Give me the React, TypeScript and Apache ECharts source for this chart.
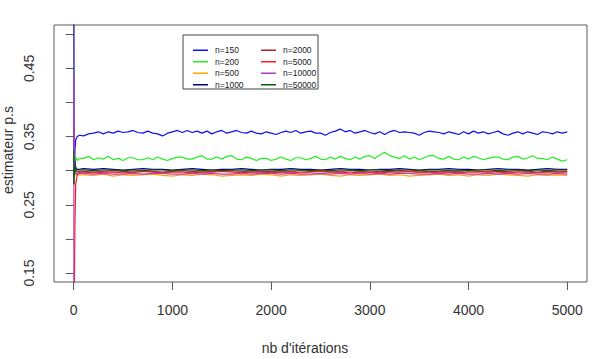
import React, { useEffect, useRef } from "react";
import * as echarts from "echarts";

// Sample positions (iterations) at which each running estimate is recorded
const EARLY_ITERS = [1, 2, 3, 5, 8, 12, 20, 35, 60];
const FINE_ITERS: number[] = [];
for (let it = 100; it <= 5000; it += 50) FINE_ITERS.push(it);
const COARSE_ITERS: number[] = [];
for (let it = 100; it <= 5000; it += 100) COARSE_ITERS.push(it);

const X_TICKS = [0, 1000, 2000, 3000, 4000, 5000];
const Y_TICKS = [0.15, 0.2, 0.25, 0.3, 0.35, 0.4, 0.45, 0.5];
const Y_LABELS = [0.15, 0.25, 0.35, 0.45];

const NAMES = ["n=150", "n=200", "n=500", "n=1000", "n=2000", "n=5000", "n=10000", "n=50000"];
const COLORS = ["#1010f0", "#22ee22", "#ffa500", "#00008b", "#a52a2a", "#ff1a1a", "#b03cc8", "#006400"];

// Start of each run (EARLY_ITERS)
const EARLY_150 = [0.33, 0.3, 0.34, 0.33, 0.31, 0.33, 0.345, 0.35, 0.352];
const EARLY_200 = [0.3, 0.28, 0.31, 0.33, 0.32, 0.31, 0.32, 0.315, 0.318];
const EARLY_500 = [0.365, 0.35, 0.34, 0.325, 0.31, 0.3, 0.295, 0.293, 0.294];
const EARLY_1000 = [1.0, 0.5, 0.333, 0.3, 0.31, 0.315, 0.305, 0.302, 0.302];
const EARLY_2000 = [0.28, 0.3, 0.31, 0.3, 0.295, 0.298, 0.299, 0.298, 0.299];
const EARLY_5000 = [0.0, 0.02, 0.05, 0.1, 0.15, 0.22, 0.28, 0.295, 0.298];
const EARLY_10000 = [0.0, 0.44, 0.4, 0.36, 0.32, 0.3, 0.296, 0.295, 0.296];
const EARLY_50000 = [0.33, 0.28, 0.31, 0.29, 0.3, 0.305, 0.3, 0.301, 0.301];

// Steady part, every 50 iterations (FINE_ITERS)
const FINE_150 = [
  0.351, 0.354, 0.355, 0.357, 0.354, 0.357, 0.355, 0.358, 0.356, 0.357,
  0.359, 0.356, 0.355, 0.358, 0.355, 0.354, 0.351, 0.355, 0.357, 0.359,
  0.356, 0.359, 0.356, 0.358, 0.355, 0.358, 0.354, 0.357, 0.359, 0.355,
  0.357, 0.359, 0.356, 0.355, 0.358, 0.355, 0.354, 0.357, 0.355, 0.353,
  0.356, 0.358, 0.356, 0.359, 0.355, 0.357, 0.358, 0.355, 0.355, 0.352,
  0.356, 0.358, 0.361, 0.357, 0.359, 0.355, 0.357, 0.359, 0.356, 0.354,
  0.357, 0.353, 0.357, 0.359, 0.356, 0.357, 0.356, 0.355, 0.352, 0.356,
  0.358, 0.357, 0.356, 0.354, 0.357, 0.355, 0.353, 0.357, 0.354, 0.358,
  0.355, 0.357, 0.354, 0.356, 0.358, 0.354, 0.352, 0.355, 0.357, 0.354,
  0.357, 0.355, 0.353, 0.357, 0.356, 0.354, 0.357, 0.355, 0.357,
];
const FINE_200 = [
  0.318, 0.321, 0.316, 0.319, 0.317, 0.321, 0.316, 0.318, 0.315, 0.319,
  0.319, 0.316, 0.316, 0.319, 0.316, 0.32, 0.317, 0.315, 0.318, 0.32,
  0.32, 0.317, 0.317, 0.32, 0.322, 0.317, 0.317, 0.32, 0.317, 0.321,
  0.322, 0.317, 0.316, 0.32, 0.318, 0.315, 0.318, 0.318, 0.315, 0.317,
  0.32, 0.317, 0.315, 0.319, 0.319, 0.316, 0.318, 0.321, 0.317, 0.316,
  0.32, 0.317, 0.321, 0.318, 0.316, 0.32, 0.317, 0.321, 0.322, 0.318,
  0.323, 0.327, 0.322, 0.32, 0.318, 0.322, 0.317, 0.32, 0.316, 0.319,
  0.322, 0.322, 0.318, 0.317, 0.321, 0.317, 0.316, 0.32, 0.317, 0.321,
  0.319, 0.316, 0.318, 0.32, 0.32, 0.317, 0.316, 0.32, 0.321, 0.317,
  0.319, 0.322, 0.318, 0.318, 0.316, 0.32, 0.317, 0.314, 0.316,
];

// Steady part, every 100 iterations (COARSE_ITERS)
const COARSE_500 = [
  0.294, 0.293, 0.295, 0.292, 0.294, 0.293, 0.294, 0.295, 0.293, 0.292,
  0.294, 0.293, 0.295, 0.294, 0.292, 0.293, 0.294, 0.293, 0.295, 0.294,
  0.292, 0.294, 0.293, 0.294, 0.295, 0.293, 0.292, 0.294, 0.293, 0.294,
  0.295, 0.293, 0.294, 0.292, 0.293, 0.294, 0.295, 0.293, 0.294, 0.292,
  0.294, 0.293, 0.295, 0.294, 0.293, 0.292, 0.294, 0.293, 0.294, 0.293,
];
const COARSE_1000 = [
  0.303, 0.302, 0.303, 0.302, 0.301, 0.302, 0.303, 0.302, 0.302, 0.301,
  0.302, 0.303, 0.302, 0.301, 0.302, 0.302, 0.303, 0.302, 0.301, 0.302,
  0.302, 0.303, 0.302, 0.302, 0.301, 0.302, 0.303, 0.302, 0.302, 0.301,
  0.302, 0.302, 0.303, 0.302, 0.301, 0.302, 0.302, 0.303, 0.302, 0.302,
  0.301, 0.302, 0.303, 0.302, 0.302, 0.301, 0.302, 0.303, 0.302, 0.302,
];
const COARSE_2000 = [
  0.299, 0.298, 0.299, 0.3, 0.299, 0.298, 0.299, 0.299, 0.298, 0.299,
  0.3, 0.299, 0.298, 0.299, 0.299, 0.3, 0.299, 0.298, 0.299, 0.299,
  0.298, 0.299, 0.3, 0.299, 0.299, 0.298, 0.299, 0.3, 0.299, 0.298,
  0.299, 0.299, 0.3, 0.299, 0.298, 0.299, 0.299, 0.298, 0.299, 0.3,
  0.299, 0.298, 0.299, 0.299, 0.3, 0.299, 0.298, 0.299, 0.299, 0.299,
];
const COARSE_5000 = [
  0.298, 0.297, 0.298, 0.298, 0.297, 0.298, 0.299, 0.298, 0.297, 0.298,
  0.298, 0.297, 0.298, 0.298, 0.299, 0.298, 0.297, 0.298, 0.298, 0.297,
  0.298, 0.298, 0.297, 0.298, 0.299, 0.298, 0.298, 0.297, 0.298, 0.298,
  0.297, 0.298, 0.298, 0.299, 0.298, 0.297, 0.298, 0.298, 0.297, 0.298,
  0.298, 0.299, 0.298, 0.297, 0.298, 0.298, 0.297, 0.298, 0.298, 0.298,
];
const COARSE_10000 = [
  0.296, 0.295, 0.296, 0.295, 0.295, 0.296, 0.295, 0.296, 0.296, 0.295,
  0.295, 0.296, 0.295, 0.296, 0.295, 0.295, 0.296, 0.295, 0.296, 0.296,
  0.295, 0.296, 0.295, 0.295, 0.296, 0.295, 0.296, 0.295, 0.296, 0.295,
  0.296, 0.295, 0.296, 0.296, 0.295, 0.295, 0.296, 0.295, 0.296, 0.295,
  0.295, 0.296, 0.295, 0.296, 0.295, 0.296, 0.295, 0.295, 0.296, 0.295,
];
const COARSE_50000 = [
  0.301, 0.3, 0.301, 0.301, 0.3, 0.301, 0.3, 0.301, 0.301, 0.3,
  0.301, 0.301, 0.3, 0.301, 0.3, 0.301, 0.301, 0.3, 0.301, 0.301,
  0.3, 0.301, 0.301, 0.3, 0.301, 0.3, 0.301, 0.301, 0.3, 0.301,
  0.301, 0.3, 0.301, 0.301, 0.3, 0.301, 0.301, 0.3, 0.301, 0.3,
  0.301, 0.301, 0.3, 0.301, 0.301, 0.3, 0.301, 0.3, 0.301, 0.301,
];

const EARLY = [EARLY_150, EARLY_200, EARLY_500, EARLY_1000, EARLY_2000, EARLY_5000, EARLY_10000, EARLY_50000];
const STEADY = [FINE_150, FINE_200, COARSE_500, COARSE_1000, COARSE_2000, COARSE_5000, COARSE_10000, COARSE_50000];
const STEADY_ITERS = [FINE_ITERS, FINE_ITERS, COARSE_ITERS, COARSE_ITERS, COARSE_ITERS, COARSE_ITERS, COARSE_ITERS, COARSE_ITERS];

const FONT = "'Liberation Sans', Arial, sans-serif";

export default function App() {
  const ref = useRef<HTMLDivElement>(null);

  useEffect(() => {
    if (!ref.current) return;
    const chart = echarts.init(ref.current, null, { renderer: "svg" });

    const series = NAMES.map((name, i) => {
      const pts: number[][] = [];
      EARLY_ITERS.forEach((it, k) => pts.push([it, EARLY[i][k]]));
      STEADY_ITERS[i].forEach((it, k) => pts.push([it, STEADY[i][k]]));
      return {
        name,
        type: "line",
        data: pts,
        showSymbol: false,
        symbol: "none",
        clip: true,
        color: COLORS[i],
        lineStyle: { width: 1.2, color: COLORS[i] },
        emphasis: { disabled: true },
      };
    });

    const legendCommon = {
      orient: "vertical",
      top: 40,
      icon: "rect",
      itemWidth: 15,
      itemHeight: 1.5,
      itemGap: 1,
      selectedMode: false,
      textStyle: { fontSize: 8.5, color: "#222", fontFamily: FONT, lineHeight: 10.5, padding: [0, 0, 0, 2] },
    };

    chart.setOption({
      animation: false,
      backgroundColor: "#ffffff",
      grid: {
        left: 54,
        top: 25,
        width: 533,
        height: 257,
        show: true,
        borderColor: "#5a5a5a",
        borderWidth: 1,
        backgroundColor: "transparent",
      },
      xAxis: {
        type: "value",
        min: -200,
        max: 5200,
        axisLine: { show: false },
        splitLine: { show: false },
        axisTick: {
          show: true,
          length: 8,
          customValues: X_TICKS,
          lineStyle: { color: "#5a5a5a", width: 1 },
        },
        axisLabel: {
          customValues: X_TICKS,
          fontSize: 14,
          color: "#333",
          fontFamily: FONT,
          margin: 21,
          formatter: (v: number) => String(v),
        },
      },
      yAxis: {
        type: "value",
        min: 0.1368,
        max: 0.5136,
        axisLine: { show: false },
        splitLine: { show: false },
        axisTick: {
          show: true,
          length: 8,
          customValues: Y_TICKS,
          lineStyle: { color: "#5a5a5a", width: 1 },
        },
        axisLabel: {
          customValues: Y_LABELS,
          rotate: 90,
          fontSize: 14,
          color: "#333",
          fontFamily: FONT,
          margin: 18,
          formatter: (v: number) => v.toFixed(2),
        },
      },
      legend: [
        { ...legendCommon, left: 188, data: NAMES.slice(0, 4) },
        { ...legendCommon, left: 256, data: NAMES.slice(4) },
      ],
      graphic: [
        {
          type: "rect",
          shape: { x: 183, y: 35, width: 135, height: 54 },
          style: { fill: "none", stroke: "#444", lineWidth: 1 },
          silent: true,
        },
        {
          type: "text",
          x: 305,
          y: 348,
          style: {
            text: "nb d'itérations",
            fontSize: 14,
            fill: "#333",
            fontFamily: FONT,
            align: "center",
            verticalAlign: "middle",
          },
        },
        {
          type: "text",
          x: 8,
          y: 150,
          rotation: Math.PI / 2,
          style: {
            text: "estimateur p.s",
            fontSize: 14,
            fill: "#333",
            fontFamily: FONT,
            align: "center",
            verticalAlign: "middle",
          },
        },
      ],
      series,
    });

    return () => chart.dispose();
  }, []);

  return <div ref={ref} style={{ width: 593, height: 359, position: "absolute", left: 0, top: 0 }} />;
}
